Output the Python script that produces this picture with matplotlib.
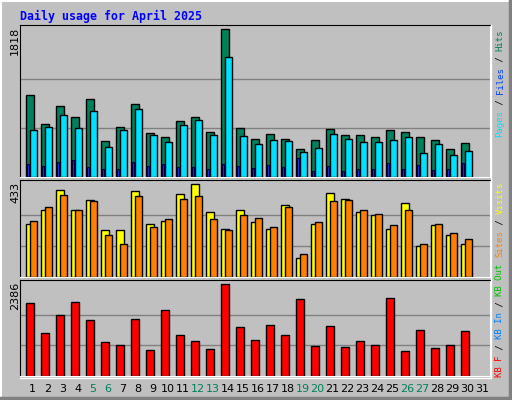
import matplotlib
matplotlib.use("Agg")
import matplotlib.pyplot as plt
from matplotlib.lines import Line2D

days = list(range(1, 31))
hits = [1004,658,880,740,954,448,621,893,547,498,695,744,559,1818,609,473,535,473,350,461,596,522,522,498,584,559,498,461,350,424]
files = [584,621,769,609,818,374,584,843,522,436,646,707,522,1472,510,411,461,448,313,362,535,473,436,436,461,498,300,411,276,325]
pages = [165,140,189,214,127,103,103,189,140,165,127,127,103,165,140,115,152,127,239,78,140,78,103,103,177,103,152,90,103,177]
visits = [244,313,402,313,355,216,216,397,248,262,383,433,300,225,309,253,225,332,90,248,388,360,300,286,225,341,146,239,197,155]
sites = [258,323,379,313,351,197,155,374,234,267,360,374,267,220,286,272,230,327,109,253,351,355,309,290,239,313,155,244,206,174]
kbytes = [1890,1106,1576,1916,1446,897,819,1472,688,1707,1054,923,714,2386,1263,949,1315,1054,1994,792,1289,766,923,819,2020,662,1184,740,819,1158]
weekends = [5,6,12,13,19,20,26,27]
max_hits, max_visits, max_kb = 1818, 433, 2386

W, H = 512, 400
fig = plt.figure(figsize=(W/100, H/100), dpi=100)
fig.patch.set_facecolor("#C0C0C0")

def ax_at(x0, y0, x1, y1):
    return fig.add_axes([x0/W, 1-y1/H, (x1-x0)/W, (y1-y0)/H])

ax1 = ax_at(20, 25, 490, 177)
ax2 = ax_at(20, 180, 490, 277)
ax3 = ax_at(20, 280, 490, 376)

def style(ax, ymax, top):
    ax.set_facecolor("#C0C0C0")
    ax.set_xlim(0.1, 31.43)
    ax.set_ylim(0, top)
    for g in (ymax/3, 2*ymax/3):
        ax.axhline(g, color="#808080", lw=1, zorder=0)
    ax.set_xticks([]); ax.set_yticks([])
    for s in ("top", "left"):
        ax.spines[s].set_color("black")
    for s in ("bottom", "right"):
        ax.spines[s].set_color("white")

style(ax1, max_hits, 1871)
style(ax2, max_visits, 450)
style(ax3, max_kb, 2498)

kw = dict(align="edge", edgecolor="black", linewidth=1, zorder=2)
ax1.bar([d-0.5 for d in days], hits, width=0.53, color="#00805C", **kw)
ax1.bar([d-0.23 for d in days], files, width=0.49, color="#00E0FF", **kw)
ax1.bar([d-0.45 for d in days], pages, width=0.16, color="#0040FF", align="edge",
        edgecolor="#000040", linewidth=0.8, zorder=3)
ax2.bar([d-0.5 for d in days], visits, width=0.53, color="#FFFF00", **kw)
ax2.bar([d-0.23 for d in days], sites, width=0.49, color="#FF8000", **kw)
ax3.bar([d-0.5 for d in days], kbytes, width=0.53, color="#FF0000", **kw)

for val, ytop in ((max_hits, 27), (max_visits, 182), (max_kb, 282)):
    fig.text(15/W, 1-ytop/H, str(val), rotation=90, ha="center", va="top",
             fontsize=8, family="DejaVu Sans")

for d in range(1, 32):
    xpx = 20 + (d - 0.1) * 470 / 31.33 - 1
    fig.text(xpx/W, 1-389/H, str(d), ha="center", va="center", fontsize=8,
             color="#00805C" if d in weekends else "black", family="DejaVu Sans")

step = 5.4
def vlabel(ybottom, segs):
    pos = 0
    for txt, col in segs:
        fig.text(500/W, 1-(ybottom - pos*step)/H, txt, rotation=90, ha="center",
                 va="bottom", fontsize=6.5, family="DejaVu Sans Mono", color=col)
        pos += len(txt)

vlabel(137, [("Pages", "#00E0FF"), (" / ", "#000000"), ("Files", "#0040FF"),
             (" / ", "#000000"), ("Hits", "#00805C")])
vlabel(257, [("Sites", "#FF8000"), (" / ", "#000000"), ("Visits", "#FFFF00")])
vlabel(377, [("KB F", "#FF0000"), (" / ", "#000000"), ("KB In", "#0080FF"),
             (" / ", "#000000"), ("KB Out", "#00C000")])

fig.text(20/W, 1-16/H, "Daily usage for April 2025", ha="left", va="center",
         fontsize=8.4, fontweight="bold", family="DejaVu Sans Mono", color="#0000FF")

def fline(x0, y0, x1, y1, c, lw=1.5):
    fig.add_artist(Line2D([x0/W, x1/W], [1-y0/H, 1-y1/H], color=c, lw=lw,
                          transform=fig.transFigure))
fline(1, 1, 510, 1, "white"); fline(1, 1, 1, 398, "white")
fline(1, 398, 511, 398, "#808080", 2.5); fline(510, 1, 510, 398, "#808080", 2.5)
fline(20, 378, 490, 378, "white", 1); fline(491, 25, 491, 378, "white", 1)

fig.savefig("out.png", dpi=100, facecolor=fig.get_facecolor())
